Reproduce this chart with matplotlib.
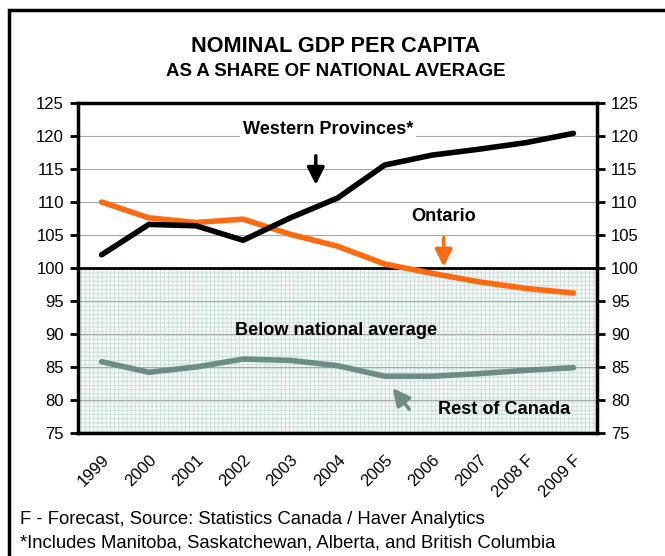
import matplotlib
matplotlib.use("Agg")
import matplotlib.pyplot as plt
from matplotlib.patches import Rectangle

plt.rcParams["font.family"] = ["Liberation Sans", "DejaVu Sans"]
plt.rcParams["hatch.linewidth"] = 0.6

YEARS = ["1999", "2000", "2001", "2002", "2003", "2004", "2005", "2006", "2007", "2008 F", "2009 F"]
WESTERN = [102.0, 106.6, 106.4, 104.2, 107.6, 110.6, 115.6, 117.1, 118.0, 119.0, 120.4]
ONTARIO = [110.0, 107.6, 106.9, 107.4, 105.1, 103.3, 100.6, 99.2, 97.9, 96.9, 96.2]
REST = [85.8, 84.2, 85.0, 86.2, 86.0, 85.2, 83.6, 83.6, 84.0, 84.5, 84.9]
NATIONAL = 100

ORANGE = "#ff6a10"
SAGE = "#6d8c85"

fig = plt.figure(figsize=(6.65, 5.56), dpi=100)
ax = fig.add_axes([78 / 665, 1 - 433 / 556, 519 / 665, 330 / 556])
x = range(len(YEARS))

# shaded band under the national average
ax.axhspan(75, NATIONAL, facecolor="#f4f9f8", edgecolor="#c9ddd8", hatch="++++", lw=0, zorder=0)
for v in range(80, 125, 5):
    if v != NATIONAL:
        ax.axhline(v, color="#a8a8a8", lw=0.8, zorder=1)
ax.axhline(NATIONAL, color="black", lw=2, zorder=4)

ax.plot(x, REST, color=SAGE, lw=4, zorder=5, solid_capstyle="round")
ax.plot(x, ONTARIO, color=ORANGE, lw=4, zorder=5, solid_capstyle="round")
ax.plot(x, WESTERN, color="black", lw=4, zorder=6, solid_capstyle="round")

ax.set_xlim(-0.5, len(YEARS) - 0.5)
ax.set_ylim(75, 125)
ax.set_yticks(range(75, 126, 5))
ax.set_xticks(list(x))
ax.set_xticklabels(YEARS, rotation=45, ha="right", rotation_mode="anchor", fontsize=12)
ax.tick_params(axis="x", length=0, pad=14)
ax.tick_params(axis="y", labelsize=12, length=6, width=2, direction="out",
               left=True, right=True, labelleft=True, labelright=True, pad=4)
for s in ax.spines.values():
    s.set_linewidth(2.5)

bbox = dict(facecolor="white", edgecolor="none", pad=2)
lab = dict(ha="center", va="center", fontsize=13.1, fontweight="bold", zorder=7)
arrow = dict(arrowstyle="-|>", lw=2.5, mutation_scale=26, shrinkA=0, shrinkB=0)

ax.text(4.8, 121.0, "Western Provinces*", bbox=bbox, **lab)
ax.annotate("", xy=(4.54, 112.6), xytext=(4.54, 117.0),
            arrowprops=dict(color="black", **arrow), zorder=7)
ax.text(7.24, 107.8, "Ontario", bbox=bbox, **lab)
ax.annotate("", xy=(7.25, 100.2), xytext=(7.25, 104.6),
            arrowprops=dict(color=ORANGE, **arrow), zorder=7)
ax.text(4.98, 90.5, "Below national average", **lab)
ax.text(8.54, 78.6, "Rest of Canada", **lab)
ax.annotate("", xy=(6.17, 81.8), xytext=(6.52, 78.6),
            arrowprops=dict(color=SAGE, **arrow), zorder=7)

fig.text(336 / 665, 1 - 46 / 556, "NOMINAL GDP PER CAPITA", ha="center", va="center",
         fontsize=15.6, fontweight="bold")
fig.text(336 / 665, 1 - 72 / 556, "AS A SHARE OF NATIONAL AVERAGE", ha="center", va="center",
         fontsize=13.4, fontweight="bold")
fig.text(20 / 665, 1 - 519 / 556, "F - Forecast, Source: Statistics Canada / Haver Analytics",
         ha="left", va="center", fontsize=13.3)
fig.text(20 / 665, 1 - 543 / 556, "*Includes Manitoba, Saskatchewan, Alberta, and British Columbia",
         ha="left", va="center", fontsize=13.3)

# outer frame, running off the right and bottom edges
fig.add_artist(Rectangle((9 / 665, -0.05), 1.0, 1 - 10 / 556 + 0.05, transform=fig.transFigure,
                         fill=False, edgecolor="black", lw=2.5))

fig.savefig("out.png", dpi=100)
